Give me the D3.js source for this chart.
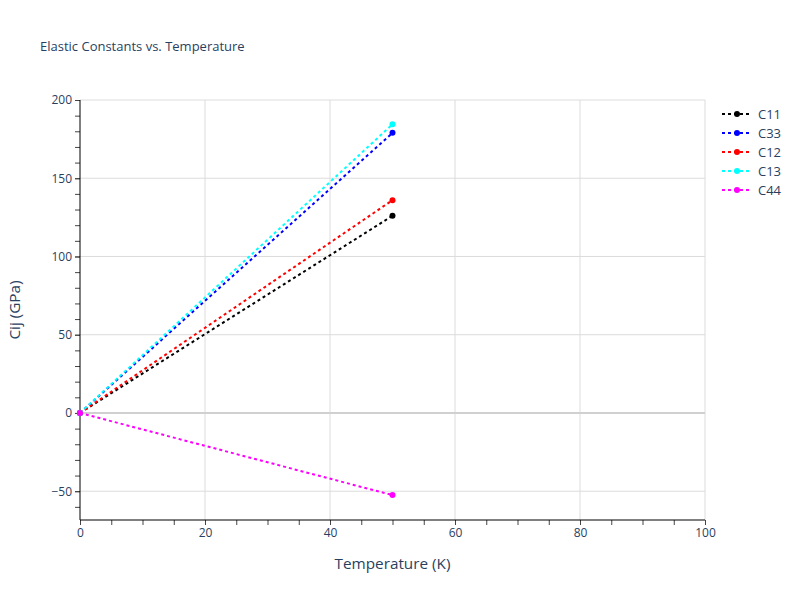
<!DOCTYPE html>
<html><head><meta charset="utf-8">
<script src="https://cdn.jsdelivr.net/npm/d3@7"></script>
<style>body{margin:0;background:#fff}svg{display:block}text{font-family:"Open Sans",sans-serif}</style>
</head><body><svg id="c" width="800" height="600"></svg>
<script>
const temps = [0, 50];
const seriesNames = ["C11", "C33", "C12", "C13", "C44"];
const seriesColors = ["black", "blue", "red", "cyan", "magenta"];
const C11 = [0, 126];
const C33 = [0, 179];
const C12 = [0, 136];
const C13 = [0, 184.5];
const C44 = [0, -52.5];
const seriesValues = [C11, C33, C12, C13, C44];
const xTicks = [0, 20, 40, 60, 80, 100];
const yTicks = [-50, 0, 50, 100, 150, 200];

const svg = d3.select("#c");
const m = {l:80, r:95, t:100, b:80};
const W = 800, H = 600;
const x = d3.scaleLinear().domain([0,100]).range([m.l, W-m.r]);
const y = d3.scaleLinear().domain([-68.4,200]).range([H-m.b, m.t]);
const txt = "#2a3f5f";

// grid
const g = svg.append("g");
g.selectAll(".gx").data(xTicks.filter(d=>d>0)).join("line")
  .attr("x1",d=>x(d)).attr("x2",d=>x(d)).attr("y1",m.t).attr("y2",H-m.b)
  .attr("stroke","#dcdcdc").attr("stroke-width",1);
g.selectAll(".gy").data(yTicks.filter(d=>d!==0)).join("line")
  .attr("y1",d=>y(d)).attr("y2",d=>y(d)).attr("x1",m.l).attr("x2",W-m.r)
  .attr("stroke","#dcdcdc").attr("stroke-width",1);
g.append("line").attr("x1",m.l).attr("x2",W-m.r).attr("y1",y(0)).attr("y2",y(0))
  .attr("stroke","#d0d0d0").attr("stroke-width",2);

// axes
const xAxis = d3.axisBottom(x).tickValues(xTicks).tickSize(5).tickPadding(3).tickFormat(d3.format("d"));
const xMinor = d3.axisBottom(x).tickValues(d3.range(0,101,5)).tickSize(5).tickFormat("");
const yAxis = d3.axisLeft(y).tickValues(yTicks).tickSize(5).tickPadding(3).tickFormat(d=>d<0?"\u2212"+Math.abs(d):d);
const yMinor = d3.axisLeft(y).tickValues(d3.range(-60,201,10)).tickSize(5).tickFormat("");
function style(sel){sel.select(".domain").remove();sel.selectAll("line").attr("stroke","#444");sel.selectAll("text").attr("fill",txt).style("font-size","12px").style("font-family","'Open Sans',sans-serif");}
svg.append("g").attr("transform",`translate(0,${H-m.b})`).call(xMinor).call(style);
svg.append("g").attr("transform",`translate(0,${H-m.b})`).call(xAxis).call(style);
svg.append("g").attr("transform",`translate(${m.l},0)`).call(yMinor).call(style);
svg.append("g").attr("transform",`translate(${m.l},0)`).call(yAxis).call(style);
svg.append("line").attr("x1",m.l).attr("x2",W-m.r).attr("y1",H-m.b).attr("y2",H-m.b).attr("stroke","black").attr("stroke-width",1);
svg.append("line").attr("x1",m.l).attr("x2",m.l).attr("y1",m.t).attr("y2",H-m.b).attr("stroke","black").attr("stroke-width",1);

// series
const line = d3.line().x((d,i)=>x(temps[i])).y(d=>y(d));
seriesValues.forEach((vals,k)=>{
  svg.append("path").datum(vals).attr("d",line).attr("fill","none")
    .attr("stroke",seriesColors[k]).attr("stroke-width",2).attr("stroke-dasharray","3,3");
  svg.selectAll(null).data(vals).join("circle")
    .attr("cx",(d,i)=>x(temps[i])).attr("cy",d=>y(d)).attr("r",3).attr("fill",seriesColors[k]);
});

// legend
const lg = svg.append("g");
seriesNames.forEach((n,k)=>{
  const yy = 114 + k*19;
  lg.append("line").attr("x1",722).attr("x2",752).attr("y1",yy).attr("y2",yy)
    .attr("stroke",seriesColors[k]).attr("stroke-width",2).attr("stroke-dasharray","3,3");
  lg.append("circle").attr("cx",737).attr("cy",yy).attr("r",3).attr("fill",seriesColors[k]);
  lg.append("text").attr("x",758).attr("y",yy+4.5).text(n).attr("fill",txt).style("font-size","13px");
});

// titles
svg.append("text").attr("x",40).attr("y",50.5).text("Elastic Constants vs. Temperature").attr("fill",txt).style("font-size","13px");
svg.append("text").attr("x",x(50)).attr("y",569).attr("text-anchor","middle").text("Temperature (K)").attr("fill",txt).style("font-size","15.3px");
svg.append("text").attr("transform",`translate(20,${(m.t+H-m.b)/2}) rotate(-90)`).attr("text-anchor","middle").text("Cij (GPa)").attr("fill",txt).style("font-size","15.3px");
</script></body></html>
